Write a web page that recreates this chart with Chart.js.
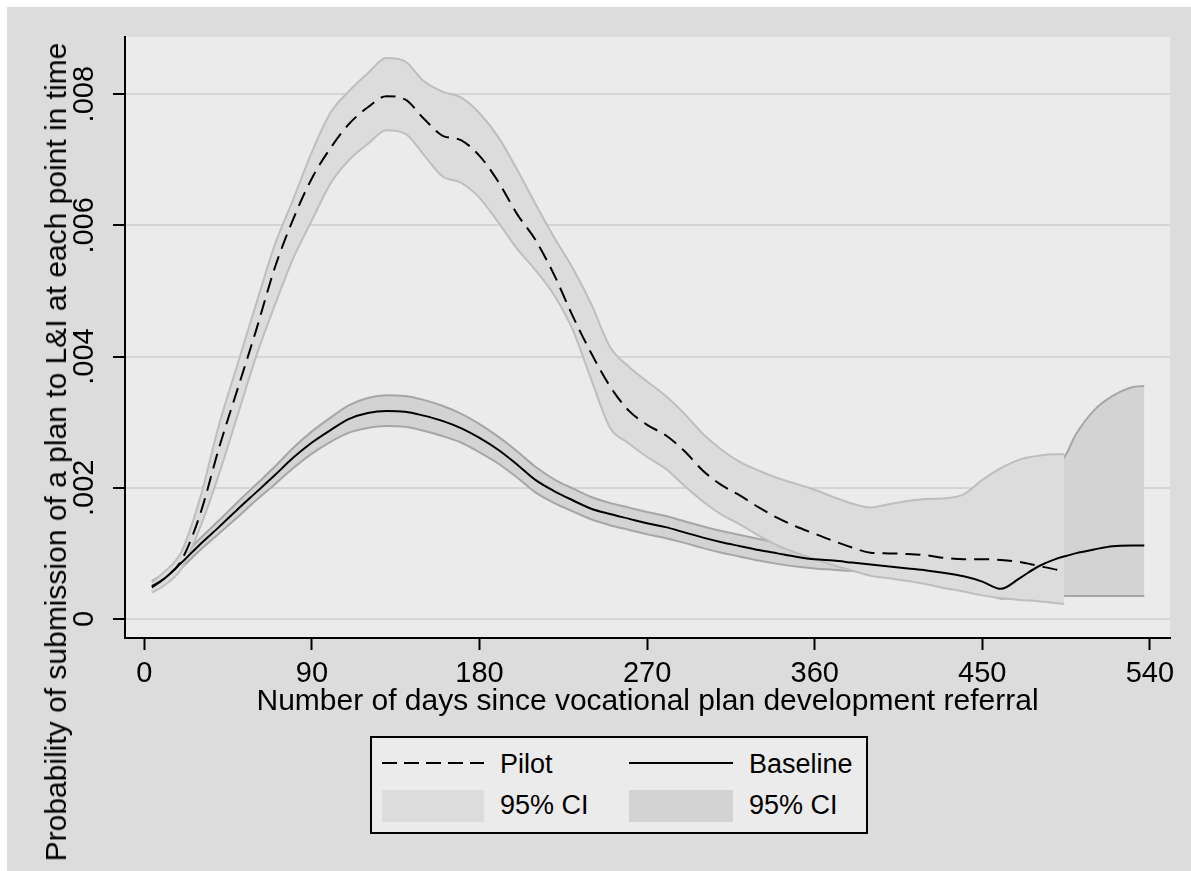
<!DOCTYPE html>
<html>
<head>
<meta charset="utf-8">
<script src="https://cdn.jsdelivr.net/npm/chart.js@4/dist/chart.umd.min.js"></script>
<style>
html,body{margin:0;padding:0;background:#ffffff;}
#wrap{position:relative;width:1191px;height:871px;overflow:hidden;font-family:'Liberation Sans',Arial,sans-serif;color:#000;}
#bg{position:absolute;left:7px;top:7px;right:0;bottom:0;background:#dcdcdc;}
#cvbox{position:absolute;left:0;top:0;width:1191px;height:871px;}
#ytitle{position:absolute;left:56px;top:452px;transform:translate(-50%,-50%) rotate(-90deg);white-space:nowrap;font-size:30px;line-height:30px;}
#legend{position:absolute;left:370px;top:736px;width:494px;height:94px;border:2px solid #000;background:#ebebeb;}
#legend .sw{position:absolute;}
#legend .tx{position:absolute;font-size:27px;line-height:27px;white-space:nowrap;}
</style>
</head>
<body>
<div id="wrap">
  <div id="bg"></div>
  <div id="cvbox"><canvas id="cv"></canvas></div>
  <div id="ytitle"></div>
  <div id="legend"></div>
</div>
<script>
// ---------- data ----------
const pilotDays = [4, 10, 20, 30, 40, 50, 60, 70, 80, 90, 100, 110, 120, 130, 140, 150, 160, 170, 180, 190,
  200, 210, 220, 230, 240, 250, 260, 270, 280, 290, 300, 310, 320, 330, 340, 350, 360, 370, 380, 390,
  400, 410, 420, 430, 440, 450, 460, 470, 480, 490, 494];
const pilotMean = [0.00048, 0.0006, 0.0009, 0.0016, 0.0026, 0.0035, 0.0044, 0.00535, 0.0061, 0.00672,
  0.00718, 0.00755, 0.0078, 0.00797, 0.00792, 0.00763, 0.00737, 0.0073, 0.00706, 0.00667,
  0.00618, 0.00578, 0.00525, 0.00462, 0.00405, 0.00355, 0.00318, 0.00296, 0.0028, 0.00256,
  0.00226, 0.00204, 0.00188, 0.0017, 0.00154, 0.00141, 0.0013, 0.00119, 0.00109, 0.00101,
  0.001, 0.00099, 0.00097, 0.00093, 0.00091, 0.00091, 0.0009, 0.00087, 0.00081, 0.00075, 0.00072];
const pilotUpper = [0.00056, 0.0007, 0.00103, 0.00185, 0.00295, 0.00388, 0.0048, 0.0057, 0.0064, 0.00712,
  0.00772, 0.00805, 0.00832, 0.00855, 0.0085, 0.0082, 0.00804, 0.00795, 0.00771, 0.00735,
  0.00686, 0.00633, 0.00582, 0.00535, 0.0048, 0.00415, 0.00385, 0.00362, 0.0034, 0.00313,
  0.00282, 0.00258, 0.00239, 0.00226, 0.00215, 0.00206, 0.00197, 0.00186, 0.00176, 0.0017,
  0.00175, 0.0018, 0.00183, 0.00184, 0.0019, 0.00212, 0.0023, 0.00243, 0.00249, 0.00251, 0.00251];
const pilotLower = [0.0004, 0.0005, 0.00077, 0.0014, 0.0022, 0.0031, 0.004, 0.00478, 0.0055, 0.00608,
  0.00664, 0.007, 0.00724, 0.00745, 0.0074, 0.00708, 0.00675, 0.00665, 0.00642, 0.00605,
  0.00565, 0.00532, 0.00494, 0.00441, 0.00365, 0.00292, 0.00268, 0.00247, 0.00229, 0.00203,
  0.00179, 0.00159, 0.00144, 0.00127, 0.00112, 0.00101, 0.00091, 0.00082, 0.00074, 0.00066,
  0.00062, 0.00058, 0.00053, 0.00047, 0.00042, 0.00036, 0.00032, 0.00029, 0.00027, 0.00024, 0.00023];

const baseDays = [4, 10, 20, 30, 40, 50, 60, 70, 80, 90, 100, 110, 120, 130, 140, 150, 160, 170, 180, 190,
  200, 210, 220, 230, 240, 250, 260, 270, 280, 290, 300, 310, 320, 330, 340, 350, 360, 370, 380, 390,
  400, 410, 420, 430, 440, 450, 460, 470, 480, 490, 495, 500, 510, 520, 530, 537];
const baseMean = [0.0005, 0.0006, 0.00086, 0.00114, 0.0014, 0.00167, 0.00193, 0.00219, 0.00246, 0.00269,
  0.00288, 0.00305, 0.00314, 0.00317, 0.00316, 0.0031, 0.00302, 0.00291, 0.00276, 0.00258,
  0.00236, 0.00212, 0.00195, 0.00181, 0.00168, 0.0016, 0.00153, 0.00146, 0.0014, 0.00132,
  0.00124, 0.00117, 0.00111, 0.00105, 0.001, 0.00095, 0.00091, 0.00089, 0.00086, 0.00083,
  0.0008, 0.00077, 0.00074, 0.0007, 0.00065, 0.00057, 0.00046, 0.00062, 0.0008, 0.00092,
  0.00096, 0.001, 0.00106, 0.00111, 0.00112, 0.00112];
const baseUpper = [0.00058, 0.00068, 0.00094, 0.00123, 0.0015, 0.00178, 0.00205, 0.00232, 0.00261, 0.00286,
  0.00307, 0.00326, 0.00337, 0.00341, 0.0034, 0.00334, 0.00325, 0.00313, 0.00297, 0.00278,
  0.00256, 0.00232, 0.00213, 0.00199, 0.00186, 0.00177, 0.0017, 0.00163, 0.00157, 0.00149,
  0.00141, 0.00134, 0.00128, 0.00122, 0.00116, 0.00111, 0.00106, 0.00103, 0.00099, 0.00096,
  0.00093, 0.0009, 0.00087, 0.00083, 0.00078, 0.00071, 0.00065, 0.0012, 0.0018, 0.0023,
  0.00251, 0.0028, 0.00318, 0.0034, 0.00353, 0.00355];
const baseLower = [0.00042, 0.00052, 0.00078, 0.00105, 0.0013, 0.00155, 0.00181, 0.00205, 0.0023, 0.00252,
  0.0027, 0.00284, 0.00291, 0.00294, 0.00293, 0.00287, 0.00279, 0.00269, 0.00254, 0.00237,
  0.00216, 0.00193, 0.00177, 0.00164, 0.00152, 0.00143, 0.00136, 0.00129, 0.00123, 0.00116,
  0.00108, 0.00101, 0.00095, 0.00089, 0.00084, 0.0008, 0.00077, 0.00075, 0.00073, 0.00071,
  0.00068, 0.00065, 0.00062, 0.00058, 0.00053, 0.00045, 0.00031, 0.00033, 0.00034, 0.00035,
  0.00035, 0.00035, 0.00035, 0.00035, 0.00035, 0.00035];

const xTickValues = [0, 90, 180, 270, 360, 450, 540];
const yTickValues = [0, 0.002, 0.004, 0.006, 0.008];
const yTickLabels = ['0', '.002', '.004', '.006', '.008'];
const xTitle = 'Number of days since vocational plan development referral';
const yTitle = 'Probability of submission of a plan to L&I at each point in time';
const seriesLabels = ['Pilot', 'Baseline'];
const ciLabel = '95% CI';

// ---------- styles ----------
const FONT = "'Liberation Sans', Arial, sans-serif";
const PILOT_DASH = [15, 8];
const PILOT_FILL = '#dcdcdc', PILOT_EDGE = '#bebebe';
const BASE_FILL = '#d3d3d3', BASE_EDGE = '#a6a6a6';

Chart.defaults.font.family = FONT;
Chart.defaults.color = '#000';

const pts = (xs, ys) => xs.map((x, i) => ({x: x, y: ys[i]}));
const common = {pointRadius: 0, pointHoverRadius: 0, cubicInterpolationMode: 'monotone', borderCapStyle: 'butt'};

const datasets = [
  Object.assign({label: seriesLabels[0], data: pts(pilotDays, pilotMean), borderColor: '#000', borderWidth: 2, borderDash: PILOT_DASH, fill: false}, common),
  Object.assign({label: seriesLabels[1], data: pts(baseDays, baseMean), borderColor: '#000', borderWidth: 2, fill: false}, common),
  Object.assign({label: ciLabel + ' pilot upper', data: pts(pilotDays, pilotUpper), borderColor: PILOT_EDGE, borderWidth: 2, fill: false}, common),
  Object.assign({label: ciLabel + ' pilot lower', data: pts(pilotDays, pilotLower), borderColor: PILOT_EDGE, borderWidth: 2, fill: '-1', backgroundColor: PILOT_FILL}, common),
  Object.assign({label: ciLabel + ' baseline upper', data: pts(baseDays, baseUpper), borderColor: BASE_EDGE, borderWidth: 2, fill: false}, common),
  Object.assign({label: ciLabel + ' baseline lower', data: pts(baseDays, baseLower), borderColor: BASE_EDGE, borderWidth: 2, fill: '-1', backgroundColor: BASE_FILL}, common)
];

const plotBg = {
  id: 'plotBg',
  beforeDraw(chart) {
    const a = chart.chartArea, ctx = chart.ctx;
    ctx.save();
    ctx.fillStyle = '#ebebeb';
    ctx.fillRect(a.left, a.top, a.right - a.left, a.bottom - a.top);
    ctx.restore();
  }
};

new Chart(document.getElementById('cv'), {
  type: 'line',
  data: {datasets: datasets},
  plugins: [plotBg],
  options: {
    responsive: true,
    maintainAspectRatio: false,
    animation: false,
    events: [],
    devicePixelRatio: 1,
    layout: {padding: {left: 0, top: 37, right: 21, bottom: 151}},
    plugins: {legend: {display: false}, tooltip: {enabled: false}, title: {display: false}},
    scales: {
      x: {
        type: 'linear',
        min: -10.4,
        max: 550.8,
        afterBuildTicks: s => { s.ticks = xTickValues.map(v => ({value: v})); },
        afterFit: s => { s.height = 82; },
        ticks: {font: {size: 29}, color: '#000', padding: 7, maxRotation: 0, minRotation: 0, autoSkip: false},
        grid: {drawOnChartArea: false, drawTicks: true, tickLength: 12, tickWidth: 2, tickColor: '#000'},
        border: {display: true, color: '#000', width: 2},
        title: {display: true, text: xTitle, font: {size: 30}, color: '#000', padding: {top: 0, bottom: 0}}
      },
      y: {
        type: 'linear',
        min: -0.00029,
        max: 0.008872,
        afterBuildTicks: s => { s.ticks = yTickValues.map(v => ({value: v})); },
        afterFit: s => { s.width = 125; },
        ticks: {
          font: {size: 29}, color: '#000', padding: 0, autoSkip: false,
          minRotation: 90, maxRotation: 90, crossAlign: 'center',
          callback: (v, i) => yTickLabels[i]
        },
        grid: {color: '#d5d5d5', lineWidth: 2, drawTicks: true, tickLength: 12, tickWidth: 2, tickColor: '#000'},
        border: {display: true, color: '#000', width: 2}
      }
    }
  }
});

// y-axis title (real text)
document.getElementById('ytitle').textContent = yTitle;

// legend built from the dataset styles
(function buildLegend() {
  const lg = document.getElementById('legend');
  const cols = [10, 257];      // sample left inside box
  const txt = [128, 377];      // text left inside box
  const add = (html) => { lg.insertAdjacentHTML('beforeend', html); };
  // row 1: lines
  add('<svg class="sw" style="left:' + cols[0] + 'px;top:20px" width="102" height="10"><line x1="0" y1="5" x2="102" y2="5" stroke="#000" stroke-width="2" stroke-dasharray="15 7"/></svg>');
  add('<svg class="sw" style="left:' + cols[1] + 'px;top:20px" width="104" height="10"><line x1="0" y1="5" x2="104" y2="5" stroke="#000" stroke-width="2"/></svg>');
  add('<div class="tx" style="left:' + txt[0] + 'px;top:13px">' + seriesLabels[0] + '</div>');
  add('<div class="tx" style="left:' + txt[1] + 'px;top:13px">' + seriesLabels[1] + '</div>');
  // row 2: CI swatches
  add('<div class="sw" style="left:' + cols[0] + 'px;top:52px;width:102px;height:32px;background:' + PILOT_FILL + '"></div>');
  add('<div class="sw" style="left:' + cols[1] + 'px;top:52px;width:104px;height:32px;background:' + BASE_FILL + '"></div>');
  add('<div class="tx" style="left:' + txt[0] + 'px;top:54px">' + ciLabel + '</div>');
  add('<div class="tx" style="left:' + txt[1] + 'px;top:54px">' + ciLabel + '</div>');
})();
</script>
</body>
</html>
